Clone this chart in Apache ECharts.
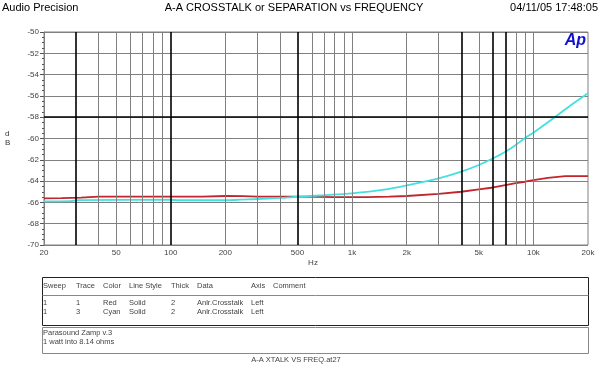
<!DOCTYPE html>
<html>
<head>
<meta charset="utf-8">
<script src="https://cdn.jsdelivr.net/npm/echarts@6/dist/echarts.min.js"></script>
<style>html,body{margin:0;padding:0;background:#fff}#c{width:600px;height:367px}</style>
</head>
<body>
<div id="c"></div>
<script>
// ---- data ----
const redFreq = [20, 25, 32, 40, 100, 150, 200, 250, 300, 500, 800, 1200, 1600, 2000, 3000, 4000, 5000, 6000, 7000, 8000, 9000, 10000, 12000, 15000, 20000];
const redDb   = [-65.62, -65.6, -65.55, -65.45, -65.45, -65.45, -65.4, -65.42, -65.45, -65.45, -65.5, -65.5, -65.45, -65.4, -65.2, -65.0, -64.78, -64.6, -64.37, -64.2, -64.06, -63.9, -63.7, -63.53, -63.53];
const cyanFreq = [20, 28, 31, 100, 110, 200, 300, 400, 500, 700, 1000, 1500, 2000, 3000, 4000, 5000, 6000, 7000, 8000, 9000, 10000, 13000, 16000, 20000];
const cyanDb   = [-65.9, -65.88, -65.78, -65.75, -65.8, -65.8, -65.68, -65.58, -65.47, -65.33, -65.15, -64.8, -64.4, -63.75, -63.12, -62.49, -61.86, -61.24, -60.6, -59.95, -59.45, -58.05, -56.9, -55.75];
const xTickLabels = [20, 50, 100, 200, 500, 1000, 2000, 5000, 10000, 20000];
const xGridLines = [30, 40, 50, 60, 70, 80, 90, 100, 200, 300, 400, 500, 600, 700, 800, 900, 1000, 2000, 3000, 4000, 5000, 6000, 7000, 8000, 9000, 10000];
const xHeavyLines = [30, 100, 500, 4000, 6000, 7000];
const yHeavyLines = [-58];
const tableHeader = ['Sweep', 'Trace', 'Color', 'Line Style', 'Thick', 'Data', 'Axis', 'Comment'];
const tableRows = [
  ['1', '1', 'Red', 'Solid', '2', 'Anlr.Crosstalk', 'Left', ''],
  ['1', '3', 'Cyan', 'Solid', '2', 'Anlr.Crosstalk', 'Left', '']
];
const notes = ['Parasound Zamp v.3', '1 watt into 8.14 ohms'];

// ---- chart ----
const FONT = 'Liberation Sans, Arial, sans-serif';
const zip = (a, b) => a.map((v, i) => [v, b[i]]);
const fmtHz = v => v >= 1000 ? (v / 1000) + 'k' : String(v);

const colX = [43, 76, 103, 129, 171, 197, 251, 273];
const graphics = [
  { type: 'text', left: 2, top: 2, style: { text: 'Audio Precision', font: '11px ' + FONT, fill: '#000' } },
  { type: 'text', x: 294, y: 2, style: { text: 'A-A CROSSTALK or SEPARATION vs FREQUENCY', font: '11px ' + FONT, fill: '#000', align: 'center' } },
  { type: 'text', x: 598, y: 2, style: { text: '04/11/05 17:48:05', font: '11px ' + FONT, fill: '#000', align: 'right' } },
  { type: 'text', x: 586, y: 33, style: { text: 'Ap', font: 'italic bold 16px ' + FONT, fill: '#1010d0', align: 'right' } },
  { type: 'text', x: 5, y: 130, style: { text: 'd', font: '8px ' + FONT, fill: '#333' } },
  { type: 'text', x: 5, y: 139, style: { text: 'B', font: '8px ' + FONT, fill: '#333' } },
  { type: 'text', x: 313, y: 259, style: { text: 'Hz', font: '8px ' + FONT, fill: '#444', align: 'center' } },
  { type: 'rect', shape: { x: 42.5, y: 277.5, width: 546, height: 48 }, style: { fill: 'none', stroke: '#222', lineWidth: 1 } },
  { type: 'line', shape: { x1: 42.5, y1: 295.5, x2: 588.5, y2: 295.5 }, style: { stroke: '#888', lineWidth: 1 } },
  { type: 'rect', shape: { x: 42.5, y: 327.5, width: 546, height: 26 }, style: { fill: 'none', stroke: '#888', lineWidth: 1 } },
  { type: 'text', x: 296, y: 356, style: { text: 'A-A XTALK VS FREQ.at27', font: '7.5px ' + FONT, fill: '#444', align: 'center' } }
];
tableHeader.forEach((h, i) => graphics.push({ type: 'text', x: colX[i], y: 282, style: { text: h, font: '7.5px ' + FONT, fill: '#444' } }));
tableRows.forEach((row, r) => row.forEach((c, i) => { if (c) graphics.push({ type: 'text', x: colX[i], y: 299 + r * 9, style: { text: c, font: '7.5px ' + FONT, fill: '#444' } }); }));
notes.forEach((n, r) => graphics.push({ type: 'text', x: 43, y: 329 + r * 9, style: { text: n, font: '7.5px ' + FONT, fill: '#444' } }));

const gridLineData = xGridLines.map(f => ({ xAxis: f, lineStyle: { type: 'solid', color: xHeavyLines.includes(f) ? '#000' : '#808080', width: xHeavyLines.includes(f) ? 1.6 : 1 } }))
  .concat(yHeavyLines.map(v => ({ yAxis: v, lineStyle: { type: 'solid', color: '#000', width: 1.6 } })));

const chart = echarts.init(document.getElementById('c'), null, { renderer: 'canvas' });
chart.setOption({
  animation: false,
  backgroundColor: '#fff',
  textStyle: { fontFamily: FONT },
  grid: { left: 44, right: 12, top: 32, bottom: 122, show: true, borderColor: '#808080', borderWidth: 1, containLabel: false },
  xAxis: {
    type: 'log', logBase: 10, min: 20, max: 20000,
    axisLine: { show: false },
    axisTick: { show: false },
    splitLine: { show: false },
    minorSplitLine: { show: false },
    axisLabel: { customValues: xTickLabels, formatter: v => fmtHz(v), fontSize: 8, color: '#444', margin: 4, showMinLabel: true, showMaxLabel: true, hideOverlap: false }
  },
  yAxis: {
    type: 'value', min: -70, max: -50, interval: 2,
    axisLine: { show: true, lineStyle: { color: '#808080' } },
    axisTick: { show: true, length: 4, lineStyle: { color: '#555' } },
    minorTick: { show: true, splitNumber: 4, length: 2, lineStyle: { color: '#555' } },
    splitLine: { show: true, lineStyle: { color: '#808080', width: 1 } },
    axisLabel: { fontSize: 8, color: '#444', margin: 5 }
  },
  graphic: graphics,
  series: [
    {
      type: 'line', data: [], z: 1, silent: true,
      markLine: { silent: true, symbol: 'none', label: { show: false }, animation: false, lineStyle: { type: 'solid' }, data: gridLineData }
    },
    { name: 'Red', type: 'line', data: zip(redFreq, redDb), showSymbol: false, z: 3, lineStyle: { color: '#c0262c', width: 1.8 }, itemStyle: { color: '#c0262c' } },
    { name: 'Cyan', type: 'line', data: zip(cyanFreq, cyanDb), showSymbol: false, smooth: 0.3, z: 4, lineStyle: { color: '#44e0e0', width: 1.8 }, itemStyle: { color: '#44e0e0' } }
  ]
});
</script>
</body>
</html>
